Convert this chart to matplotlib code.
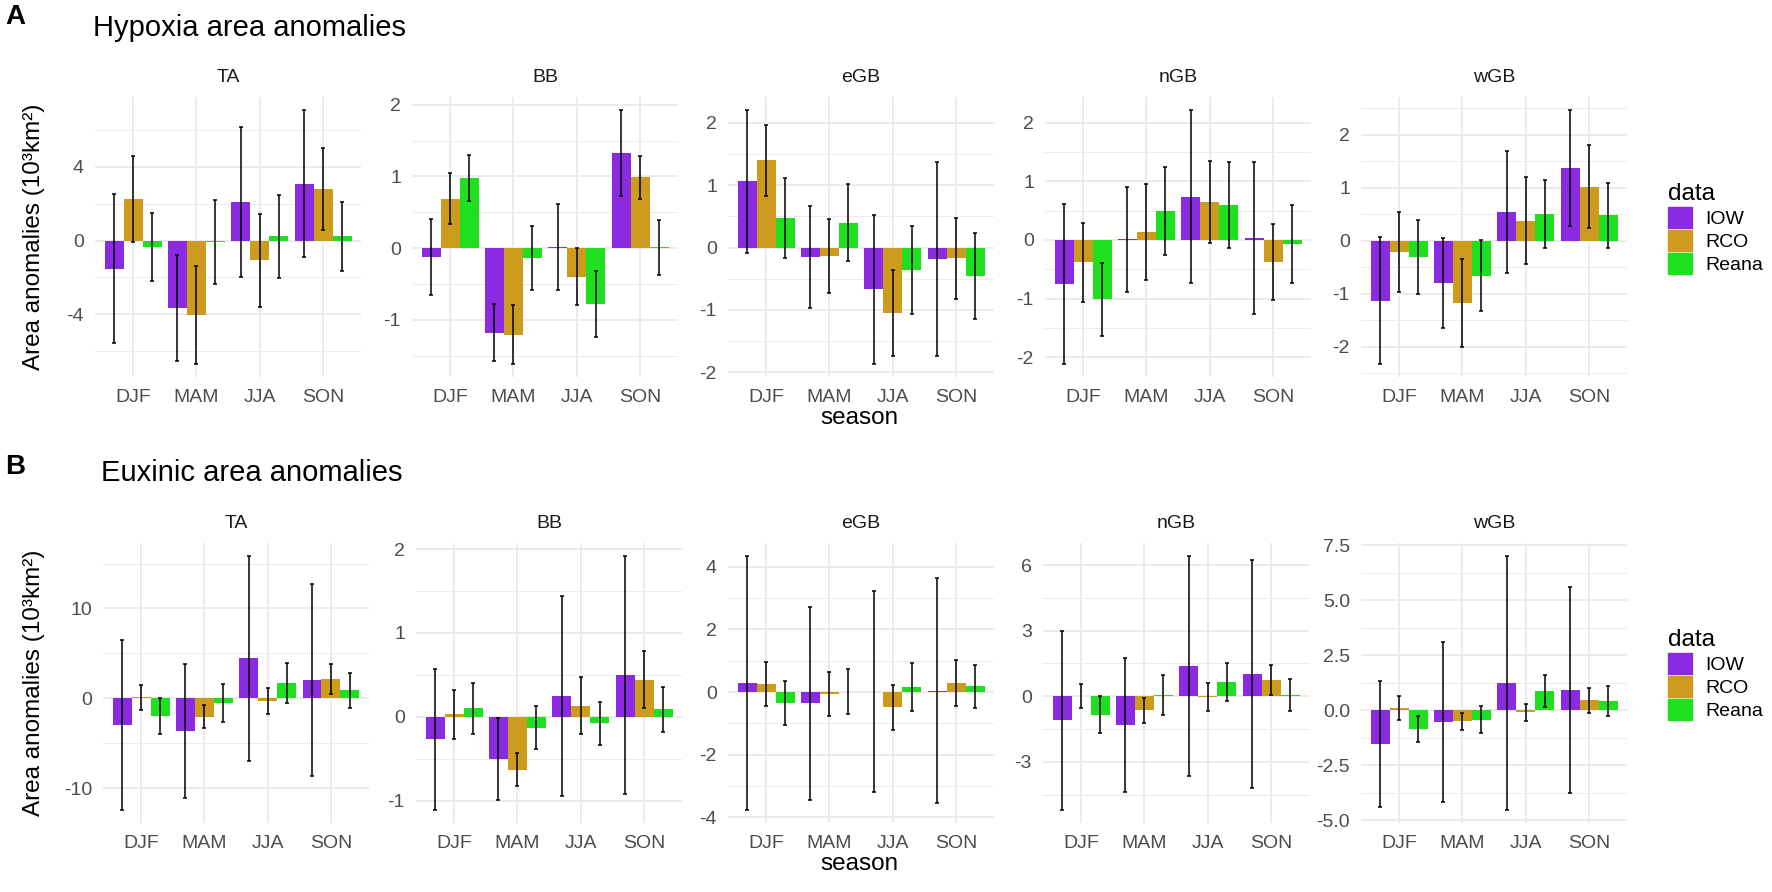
import matplotlib
matplotlib.use('Agg')
import matplotlib.pyplot as plt
from matplotlib.patches import Patch
import numpy as np

plt.rcParams['font.family'] = ['Liberation Sans', 'DejaVu Sans']
plt.rcParams['axes.unicode_minus'] = False

regions = ["TA", "BB", "eGB", "nGB", "wGB"]
seasons = ["DJF", "MAM", "JJA", "SON"]
datasets = ["IOW", "RCO", "Reana"]
colors = ["#8A2BE2", "#CD9B1D", "#1FE01F"]

# hypoxia area anomalies, one row per region, one value per season
hyp_iow_mean = [[-1.53, -3.64, 2.11, 3.10], [-0.13, -1.18, 0.01, 1.33], [1.06, -0.15, -0.67, -0.18],
                [-0.75, 0.01, 0.74, 0.03], [-1.13, -0.79, 0.54, 1.37]]
hyp_iow_sd = [[4.05, 2.88, 4.08, 4.01], [0.53, 0.40, 0.60, 0.60], [1.15, 0.82, 1.20, 1.56],
              [1.37, 0.90, 1.48, 1.30], [1.20, 0.85, 1.15, 1.10]]
hyp_rco_mean = [[2.27, -4.05, -1.06, 2.81], [0.69, -1.21, -0.40, 0.99], [1.40, -0.13, -1.05, -0.17],
                [-0.38, 0.14, 0.64, -0.37], [-0.21, -1.17, 0.38, 1.02]]
hyp_rco_sd = [[2.35, 2.67, 2.53, 2.24], [0.36, 0.41, 0.40, 0.30], [0.57, 0.59, 0.69, 0.65],
              [0.67, 0.82, 0.70, 0.65], [0.75, 0.83, 0.82, 0.78]]
hyp_reana_mean = [[-0.36, -0.07, 0.23, 0.23], [0.98, -0.14, -0.78, 0.01], [0.48, 0.40, -0.36, -0.46],
                  [-1.01, 0.49, 0.60, -0.07], [-0.31, -0.66, 0.50, 0.48]]
hyp_reana_sd = [[1.85, 2.28, 2.27, 1.89], [0.32, 0.45, 0.46, 0.38], [0.64, 0.62, 0.70, 0.69],
                [0.62, 0.75, 0.73, 0.67], [0.70, 0.67, 0.64, 0.61]]

# euxinic area anomalies
eux_iow_mean = [[-2.96, -3.63, 4.44, 2.04], [-0.27, -0.50, 0.25, 0.50], [0.29, -0.35, 0.01, 0.05],
                [-1.11, -1.31, 1.40, 1.02], [-1.54, -0.53, 1.24, 0.91]]
eux_iow_sd = [[9.50, 7.45, 11.43, 10.65], [0.845, 0.49, 1.19, 1.42], [4.06, 3.08, 3.20, 3.58],
              [4.11, 3.07, 5.03, 5.20], [2.87, 3.62, 5.78, 4.68]]
eux_rco_mean = [[0.11, -2.04, -0.30, 2.19], [0.03, -0.63, 0.13, 0.44], [0.26, -0.05, -0.48, 0.29],
                [0.02, -0.64, -0.04, 0.73], [0.11, -0.50, -0.09, 0.45]]
eux_rco_sd = [[1.40, 1.28, 1.50, 1.67], [0.29, 0.20, 0.34, 0.34], [0.71, 0.70, 0.72, 0.74],
              [0.56, 0.57, 0.65, 0.68], [0.55, 0.38, 0.39, 0.57]]
eux_reana_mean = [[-1.96, -0.56, 1.74, 0.89], [0.10, -0.13, -0.08, 0.09], [-0.35, 0.01, 0.16, 0.18],
                  [-0.84, 0.05, 0.64, 0.06], [-0.85, -0.42, 0.88, 0.41]]
eux_reana_sd = [[2.00, 2.13, 2.22, 1.98], [0.30, 0.255, 0.255, 0.27], [0.71, 0.72, 0.77, 0.70],
                [0.84, 0.92, 0.86, 0.75], [0.57, 0.63, 0.74, 0.68]]

hyp_ticks = [[-4, 0, 4], [-1, 0, 1, 2], [-2, -1, 0, 1, 2], [-2, -1, 0, 1, 2], [-2, -1, 0, 1, 2]]
eux_ticks = [[-10, 0, 10], [-1, 0, 1, 2], [-4, -2, 0, 2, 4], [-3, 0, 3, 6], [-5, -2.5, 0, 2.5, 5, 7.5]]

W, H = 1772, 892
fig = plt.figure(figsize=(W / 100, H / 100), dpi=100)

bar_w = 0.3
grid_c = "#EBEBEB"
tick_c = "#4D4D4D"


def px_axes(left, top, width, height):
    return fig.add_axes([left / W, 1 - (top + height) / H, width / W, height / H])


def draw_panel(ax, means, sds, ticks, decimals=False):
    x = np.arange(len(seasons))
    lo, hi = 0.0, 0.0
    for k in range(3):
        m = np.array(means[k])
        s = np.array(sds[k])
        pos = x + (k - 1) * bar_w
        ax.bar(pos, m, bar_w, color=colors[k], zorder=2, linewidth=0)
        ax.errorbar(pos, m, yerr=s, fmt='none', ecolor='black', elinewidth=1.1,
                    capsize=1.2, capthick=1.1, zorder=3)
        lo = min(lo, (m - s).min())
        hi = max(hi, (m + s).max())
    pad = 0.05 * (hi - lo)
    ax.set_ylim(lo - pad, hi + pad)
    ax.set_xlim(-0.6, 3.6)
    ax.set_xticks(x)
    ax.set_xticklabels(seasons)
    ax.set_yticks(ticks)
    if decimals:
        ax.set_yticklabels([f"{t:.1f}" for t in ticks])
    else:
        ax.set_yticklabels([f"{t:g}" for t in ticks])
    step = ticks[1] - ticks[0]
    minors = [t - step / 2 for t in ticks] + [ticks[-1] + step / 2]
    minors = [t for t in minors if lo - pad < t < hi + pad]
    for t in minors:
        ax.axhline(t, color=grid_c, lw=0.7, zorder=0)
    for t in ticks:
        ax.axhline(t, color=grid_c, lw=1.4, zorder=0)
    for xi in x:
        ax.axvline(xi, color=grid_c, lw=1.4, zorder=0)
    for sp in ax.spines.values():
        sp.set_visible(False)
    ax.tick_params(length=0, labelsize=14, colors=tick_c, pad=8)
    ax.tick_params(axis='x', pad=9)


def draw_row(top, lefts, iow_m, iow_s, rco_m, rco_s, rea_m, rea_s, ticks,
             letter, letter_y, title, title_y, dec_last):
    width, height = 266, 280
    for i, reg in enumerate(regions):
        ax = px_axes(lefts[i], top, width, height)
        draw_panel(ax, [iow_m[i], rco_m[i], rea_m[i]], [iow_s[i], rco_s[i], rea_s[i]],
                   ticks[i], decimals=(dec_last and i == 4))
        fig.text((lefts[i] + width / 2) / W, 1 - (top - 20) / H, reg, ha='center', va='center',
                 fontsize=14, color='#1A1A1A')
    fig.text(5 / W, 1 - letter_y / H, letter, fontsize=20, fontweight='bold', va='center', ha='left')
    fig.text((lefts[0] - 2) / W, 1 - title_y / H, title, fontsize=21, va='center', ha='left')
    fig.text(34 / W, 1 - (top + height / 2) / H, "Area anomalies (10³km²)", rotation=90,
             fontsize=17.5, ha='center', va='center')
    fig.text(859 / W, 1 - (top + height + 41) / H, "season", fontsize=17.5, ha='center', va='center')
    handles = [Patch(color=c) for c in colors]
    leg = fig.legend(handles, datasets, loc='upper left',
                     bbox_to_anchor=(1660 / W, 1 - (top + 78) / H), title='data', frameon=False,
                     fontsize=14, title_fontsize=17.5, handlelength=1.25, handleheight=1.25,
                     labelspacing=0.12, handletextpad=0.7, borderaxespad=0)
    leg._legend_box.align = 'left'


draw_row(97, [95, 412, 728, 1045, 1361], hyp_iow_mean, hyp_iow_sd, hyp_rco_mean, hyp_rco_sd,
         hyp_reana_mean, hyp_reana_sd, hyp_ticks, "A", 17, "Hypoxia area anomalies", 28, False)
draw_row(543, [103, 416, 728, 1043, 1361], eux_iow_mean, eux_iow_sd, eux_rco_mean, eux_rco_sd,
         eux_reana_mean, eux_reana_sd, eux_ticks, "B", 467, "Euxinic area anomalies", 473, True)

fig.savefig("out.png", dpi=100, facecolor='white')
